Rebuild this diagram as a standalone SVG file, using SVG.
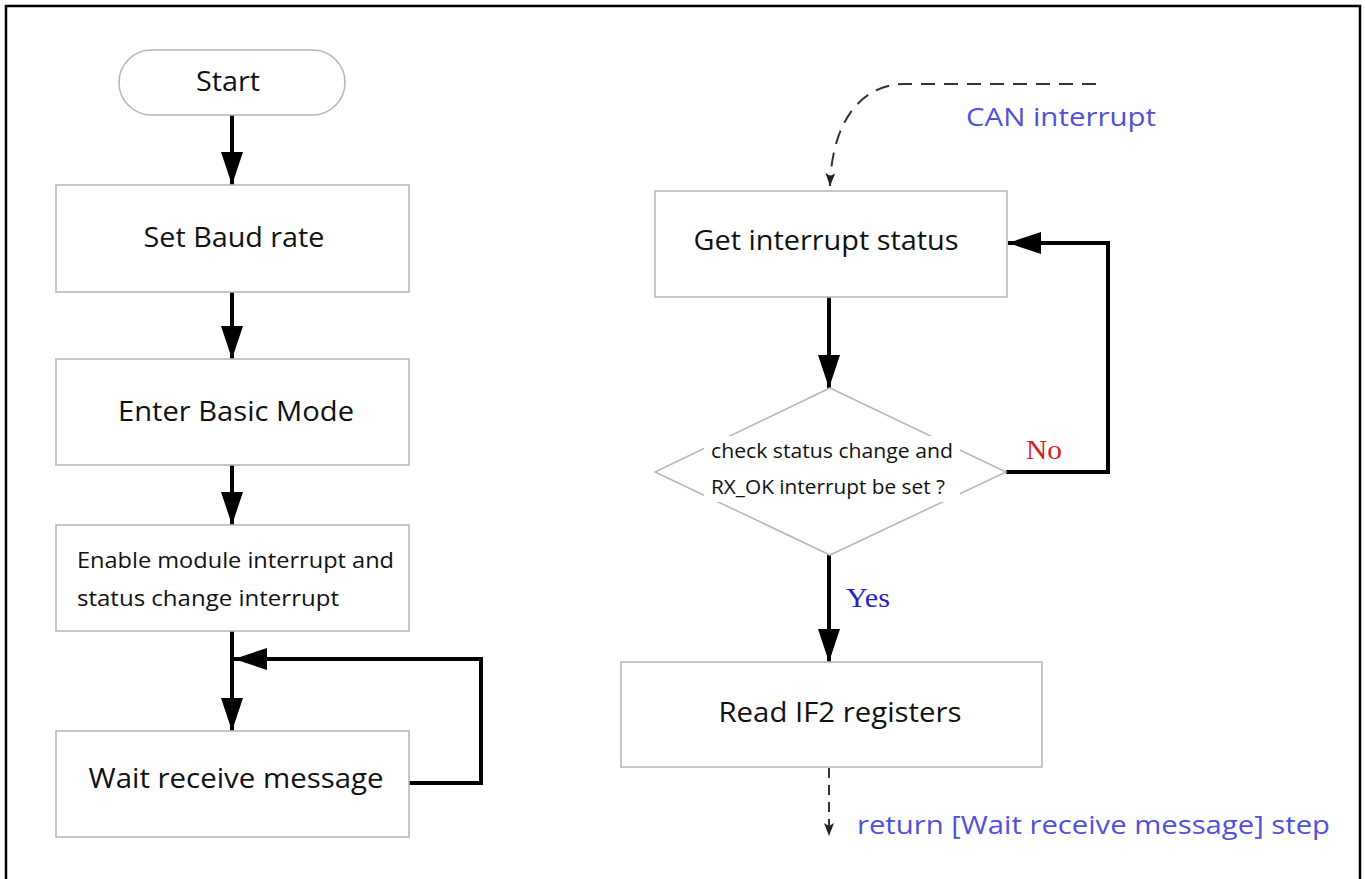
<svg xmlns="http://www.w3.org/2000/svg" width="1365" height="879" viewBox="0 0 1365 879">
<style>
.box{fill:#fff;stroke:#b8b8b8;stroke-width:1.6}
.t{font-family:"Open Sans","Noto Sans","Liberation Sans",sans-serif;fill:#111}
.big{font-size:27.5px}
.small{font-size:21.5px}
.blue{font-family:"Open Sans","Noto Sans","Liberation Sans",sans-serif;fill:#5050dc;font-size:26px}
.c{fill:none;stroke:#000;stroke-width:4}
.d{fill:none;stroke:#333;stroke-width:2;stroke-dasharray:14,9}
.serif{font-family:"Liberation Serif","Times New Roman",serif;font-size:28px}
</style>
<defs>
<marker id="ah" markerUnits="userSpaceOnUse" markerWidth="34" markerHeight="24" refX="33" refY="11" orient="auto">
<path d="M0,0 L33,11 L0,22 Z" fill="#000"/>
</marker>
<marker id="sh" markerUnits="userSpaceOnUse" markerWidth="14" markerHeight="12" refX="13" refY="5" orient="auto">
<path d="M0,0 L13,5 L0,10 L3,5 Z" fill="#222"/>
</marker>
</defs>
<rect x="0" y="0" width="1365" height="879" fill="#fff"/>
<path d="M6,879 V6 H1360 V879" fill="none" stroke="#000" stroke-width="2.5"/>

<g id="connectors">
<line class="c" x1="232" y1="115" x2="232" y2="185" marker-end="url(#ah)"/>
<line class="c" x1="232" y1="292" x2="232" y2="359" marker-end="url(#ah)"/>
<line class="c" x1="232" y1="465" x2="232" y2="525" marker-end="url(#ah)"/>
<line class="c" x1="232" y1="631" x2="232" y2="731" marker-end="url(#ah)"/>
<path class="c" d="M409,783 H481 V659 H234" marker-end="url(#ah)"/>
<line class="c" x1="829" y1="297" x2="829" y2="388" marker-end="url(#ah)"/>
<path class="c" d="M1006,472 H1108 V243 H1008" marker-end="url(#ah)"/>
<line class="c" x1="829" y1="555" x2="829" y2="662" marker-end="url(#ah)"/>
<path class="d" d="M1096,84 H905 C862,84 832,120 830,186" marker-end="url(#sh)"/>
<line class="d" style="stroke-dasharray:10,7" x1="829" y1="768" x2="829" y2="836" marker-end="url(#sh)"/>
</g>

<g id="start">
<rect class="box" x="119" y="50" width="226" height="65" rx="32.5"/>
<text class="t big" x="228" y="91" text-anchor="middle" textLength="64" lengthAdjust="spacingAndGlyphs">Start</text>
</g>
<g id="set-baud">
<rect class="box" x="56" y="185" width="353" height="107"/>
<text class="t big" x="234" y="247" text-anchor="middle" textLength="181" lengthAdjust="spacingAndGlyphs">Set Baud rate</text>
</g>
<g id="enter-basic">
<rect class="box" x="56" y="359" width="353" height="106"/>
<text class="t big" x="236" y="421" text-anchor="middle" textLength="236" lengthAdjust="spacingAndGlyphs">Enter Basic Mode</text>
</g>
<g id="enable">
<rect class="box" x="56" y="525" width="353" height="106"/>
<text class="t small" x="77" y="568" textLength="317" lengthAdjust="spacingAndGlyphs">Enable module interrupt and</text>
<text class="t small" x="77" y="606" textLength="262" lengthAdjust="spacingAndGlyphs">status change interrupt</text>
</g>
<g id="wait">
<rect class="box" x="56" y="731" width="353" height="106"/>
<text class="t big" x="236" y="788" text-anchor="middle" textLength="295" lengthAdjust="spacingAndGlyphs">Wait receive message</text>
</g>

<g id="can-interrupt">
<text class="blue" x="966" y="126" textLength="190" lengthAdjust="spacingAndGlyphs">CAN interrupt</text>
</g>
<g id="get-status">
<rect class="box" x="655" y="191" width="352" height="106"/>
<text class="t big" x="826" y="250" text-anchor="middle" textLength="265" lengthAdjust="spacingAndGlyphs">Get interrupt status</text>
</g>
<g id="check">
<polygon class="box" points="830,388 1006,472 830,555 655,472"/>
<rect x="704" y="436" width="256" height="30" fill="#fff"/>
<rect x="704" y="472" width="256" height="30" fill="#fff"/>
<text class="t" font-size="19.5" x="711" y="458" textLength="242" lengthAdjust="spacingAndGlyphs">check status change and</text>
<text class="t" font-size="19.5" x="711" y="494" textLength="234" lengthAdjust="spacingAndGlyphs">RX_OK interrupt be set ?</text>
<text class="serif" x="1026" y="459" fill="#d42020" textLength="36" lengthAdjust="spacingAndGlyphs">No</text>
<text class="serif" x="846" y="607" fill="#2424c8" textLength="44" lengthAdjust="spacingAndGlyphs">Yes</text>
</g>
<g id="read-if2">
<rect class="box" x="621" y="662" width="421" height="105"/>
<text class="t big" x="840" y="722" text-anchor="middle" textLength="243" lengthAdjust="spacingAndGlyphs">Read IF2 registers</text>
</g>
<g id="return">
<text class="blue" x="857" y="834" textLength="473" lengthAdjust="spacingAndGlyphs">return [Wait receive message] step</text>
</g>
</svg>
